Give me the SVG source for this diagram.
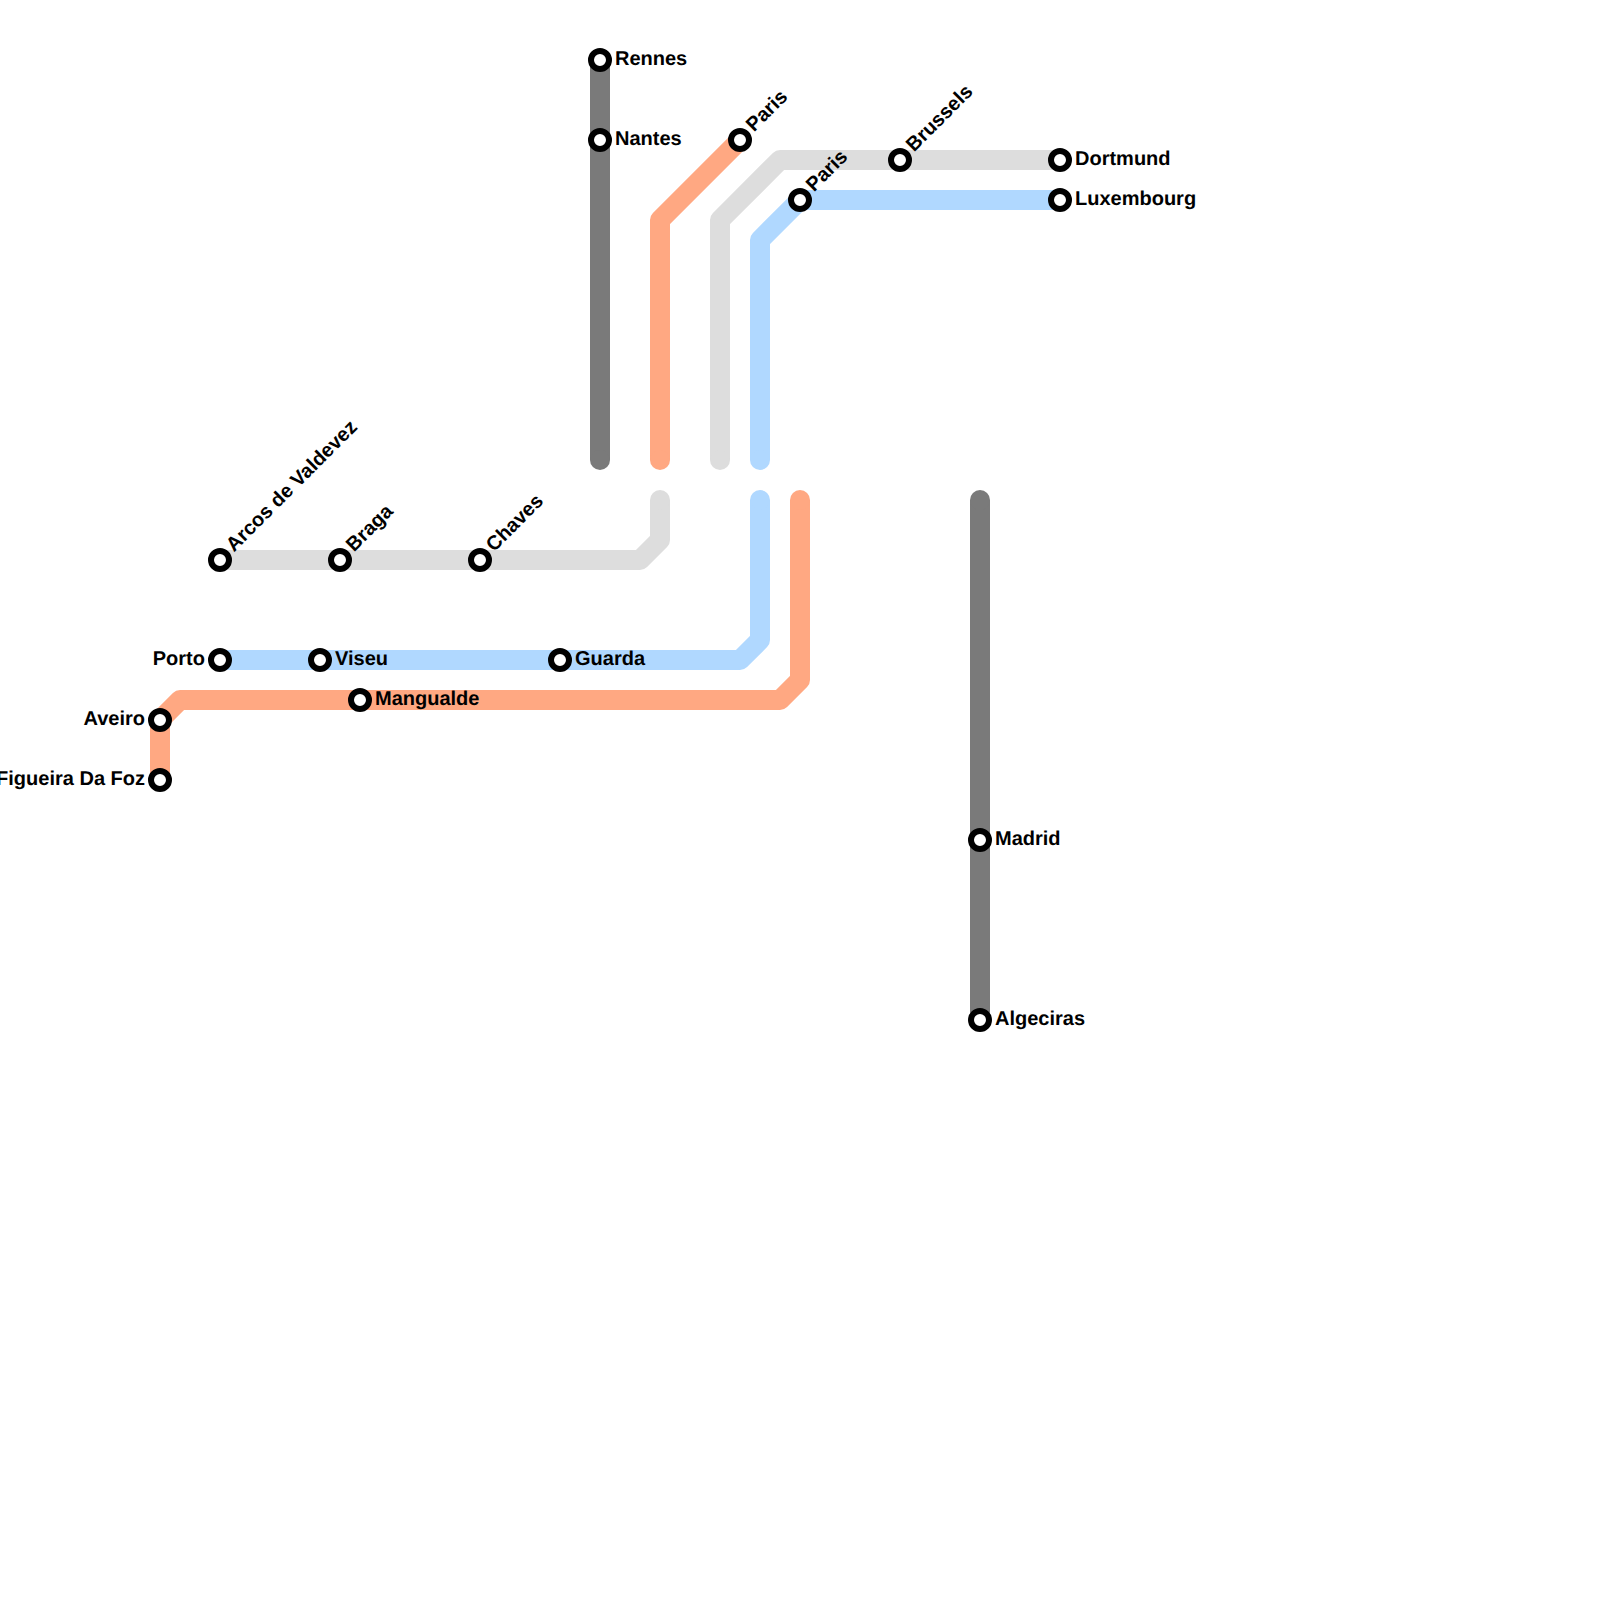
<svg xmlns="http://www.w3.org/2000/svg" width="1600" height="1600" viewBox="0 0 1600 1600">
<style>
.l{fill:none;stroke-width:20;stroke-linejoin:round;stroke-linecap:butt}
.o{stroke:#ffa882}.g{stroke:#dddddd}.b{stroke:#b0d8ff}.d{stroke:#7a7a7a}
.s{fill:#fff;stroke:#000;stroke-width:6}
text{font-family:"Liberation Sans",Arial,sans-serif;font-weight:700;font-size:20px;fill:#000;text-rendering:geometricPrecision}
.e{text-anchor:end}
</style>
<rect width="1600" height="1600" fill="#fff"/>
<g id="connectors">
<path class="l d" d="M600 60V460"/><circle cx="600" cy="460" r="10" fill="#7a7a7a"/>
<path class="l o" d="M740 140L660 220V460"/><circle cx="660" cy="460" r="10" fill="#ffa882"/>
<path class="l g" d="M720 460V220L780 160H1060"/><circle cx="720" cy="460" r="10" fill="#dddddd"/>
<path class="l b" d="M760 460V240L800 200H1060"/><circle cx="760" cy="460" r="10" fill="#b0d8ff"/>
<path class="l g" d="M220 560H640L660 540V500"/><circle cx="660" cy="500" r="10" fill="#dddddd"/>
<path class="l b" d="M220 660H740L760 640V500"/><circle cx="760" cy="500" r="10" fill="#b0d8ff"/>
<path class="l o" d="M160 780V720L180 700H780L800 680V500"/><circle cx="800" cy="500" r="10" fill="#ffa882"/>
<path class="l d" d="M980 500V1020"/><circle cx="980" cy="500" r="10" fill="#7a7a7a"/>
</g>
<g id="rennes"><circle class="s" cx="600" cy="60" r="9"/><text x="615" y="65">Rennes</text></g>
<g id="nantes"><circle class="s" cx="600" cy="140" r="9"/><text x="615" y="145">Nantes</text></g>
<g id="paris-1"><circle class="s" cx="740" cy="140" r="9"/><text transform="translate(754 132.5) rotate(-45)">Paris</text></g>
<g id="paris-2"><circle class="s" cx="800" cy="200" r="9"/><text transform="translate(814 192.5) rotate(-45)">Paris</text></g>
<g id="brussels"><circle class="s" cx="900" cy="160" r="9"/><text transform="translate(914 152.5) rotate(-45)">Brussels</text></g>
<g id="dortmund"><circle class="s" cx="1060" cy="160" r="9"/><text x="1075" y="165">Dortmund</text></g>
<g id="luxembourg"><circle class="s" cx="1060" cy="200" r="9"/><text x="1075" y="205">Luxembourg</text></g>
<g id="arcos"><circle class="s" cx="220" cy="560" r="9"/><text transform="translate(234 552.5) rotate(-45)">Arcos de Valdevez</text></g>
<g id="braga"><circle class="s" cx="340" cy="560" r="9"/><text transform="translate(354 552.5) rotate(-45)">Braga</text></g>
<g id="chaves"><circle class="s" cx="480" cy="560" r="9"/><text transform="translate(494 552.5) rotate(-45)">Chaves</text></g>
<g id="porto"><circle class="s" cx="220" cy="660" r="9"/><text class="e" x="205" y="665">Porto</text></g>
<g id="viseu"><circle class="s" cx="320" cy="660" r="9"/><text x="335" y="665">Viseu</text></g>
<g id="guarda"><circle class="s" cx="560" cy="660" r="9"/><text x="575" y="665">Guarda</text></g>
<g id="mangualde"><circle class="s" cx="360" cy="700" r="9"/><text x="375" y="705">Mangualde</text></g>
<g id="aveiro"><circle class="s" cx="160" cy="720" r="9"/><text class="e" x="145" y="725">Aveiro</text></g>
<g id="figueira"><circle class="s" cx="160" cy="780" r="9"/><text class="e" x="145" y="785">Figueira Da Foz</text></g>
<g id="madrid"><circle class="s" cx="980" cy="840" r="9"/><text x="995" y="845">Madrid</text></g>
<g id="algeciras"><circle class="s" cx="980" cy="1020" r="9"/><text x="995" y="1025">Algeciras</text></g>
</svg>
